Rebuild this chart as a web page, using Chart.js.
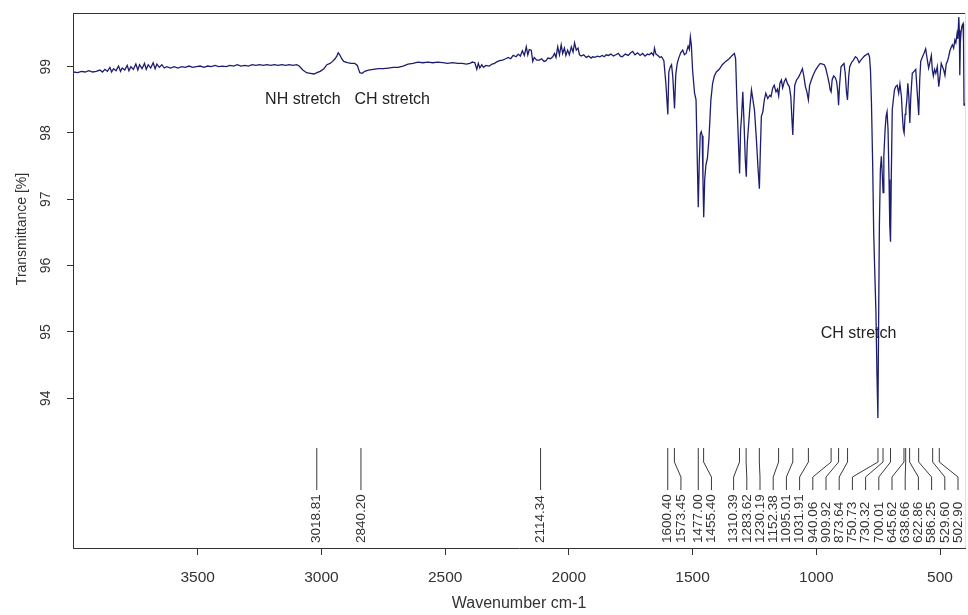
<!DOCTYPE html>
<html>
<head>
<meta charset="utf-8">
<title>IR spectrum</title>
<script src="https://cdn.jsdelivr.net/npm/chart.js@4.4.0/dist/chart.umd.min.js"></script>
<style>
    html, body { margin: 0; padding: 0; background: #ffffff; }
    #wrap { width: 968px; height: 615px; }
</style>
</head>
<body>
<div id="wrap"><canvas id="irChart" width="968" height="615"></canvas></div>
<script>
// ============================================================================
// DATA
// ============================================================================

// spectrum (wavenumber in cm-1, transmittance in %)
const waveNumbers = [
    4002, 3985, 3970, 3955, 3940, 3925, 3910, 3895, 3885, 3875,
    3865, 3855, 3848, 3840, 3830, 3820, 3812, 3805, 3795, 3785,
    3778, 3770, 3760, 3750, 3742, 3735, 3725, 3715, 3708, 3700,
    3690, 3680, 3672, 3665, 3655, 3645, 3635, 3625, 3610, 3595,
    3580, 3565, 3550, 3535, 3520, 3505, 3490, 3475, 3460, 3445,
    3430, 3415, 3400, 3385, 3370, 3355, 3340, 3325, 3310, 3295,
    3280, 3265, 3250, 3235, 3220, 3205, 3190, 3175, 3160, 3145,
    3130, 3115, 3100, 3090, 3075, 3060, 3045, 3030, 3018, 3005,
    2990, 2978, 2965, 2955, 2945, 2938, 2932, 2926, 2918, 2910,
    2895, 2880, 2865, 2855, 2845, 2835, 2825, 2810, 2790, 2770,
    2750, 2730, 2710, 2690, 2670, 2650, 2630, 2610, 2590, 2570,
    2550, 2530, 2510, 2490, 2470, 2450, 2430, 2415, 2400, 2390,
    2380, 2372, 2366, 2360, 2352, 2345, 2335, 2322, 2310, 2300,
    2293, 2280, 2268, 2255, 2245, 2235, 2225, 2213, 2205, 2196,
    2188, 2180, 2172, 2166, 2160, 2152, 2146, 2140, 2130, 2119,
    2110, 2100, 2092, 2085, 2075, 2065, 2058, 2052, 2045, 2038,
    2031, 2025, 2018, 2012, 2005, 1998, 1990, 1983, 1977, 1970,
    1963, 1957, 1950, 1940, 1930, 1920, 1910, 1904, 1895, 1885,
    1875, 1865, 1857, 1849, 1840, 1830, 1820, 1810, 1800, 1792,
    1784, 1772, 1760, 1750, 1742, 1733, 1722, 1712, 1702, 1692,
    1682, 1675, 1666, 1658, 1654, 1648, 1640, 1632, 1625, 1616,
    1608, 1600, 1596, 1590, 1585, 1580, 1573, 1568, 1562, 1556,
    1548, 1540, 1533, 1526, 1518, 1513, 1509, 1505, 1500, 1492,
    1486, 1481, 1477, 1473, 1469, 1465, 1461, 1458, 1455, 1451,
    1446, 1440, 1434, 1426, 1419, 1412, 1404, 1392, 1380, 1366,
    1352, 1340, 1331, 1326, 1321, 1315, 1310, 1306, 1302, 1297,
    1292, 1287, 1283, 1279, 1275, 1268, 1262, 1256, 1250, 1242,
    1236, 1230, 1226, 1222, 1216, 1210, 1204, 1196, 1188, 1183,
    1176, 1170, 1163, 1157, 1152, 1147, 1141, 1136, 1129, 1123,
    1116, 1109, 1103, 1099, 1095, 1091, 1087, 1080, 1072, 1064,
    1056, 1050, 1044, 1038, 1032, 1027, 1020, 1012, 1003, 994,
    984, 975, 968, 962, 955, 948, 944, 940, 936, 930,
    924, 918, 913, 910, 906, 900, 893, 888, 883, 878,
    874, 869, 865, 858, 850, 842, 835, 827, 820, 813,
    806, 798, 790, 785, 781, 777, 772, 768, 764, 759,
    755, 751, 748, 745, 741, 737, 733, 730, 727, 722,
    718, 714, 710, 706, 703, 700, 697, 693, 688, 684,
    679, 673, 667, 662, 656, 651, 648, 645, 641, 638,
    634, 630, 626, 622, 618, 612, 605, 598, 594, 590,
    586, 582, 578, 572, 565, 558, 552, 546, 540, 535,
    531, 527, 522, 517, 511, 505, 500, 495, 490, 485,
    480, 475, 470, 465, 460, 454, 450, 445, 440, 436,
    431, 428, 424, 422, 420, 418, 415, 411, 407, 405,
    403, 400
];

const transmittance = [
    98.92, 98.91, 98.93, 98.92, 98.94, 98.92, 98.93, 98.95, 98.92, 98.96,
    98.93, 98.99, 98.92, 98.97, 98.94, 99.01, 98.93, 98.98, 98.95, 99.02,
    98.94, 99.00, 98.96, 99.04, 98.95, 99.03, 98.97, 99.05, 98.96, 99.03,
    98.98, 99.06, 98.97, 99.04, 98.99, 99.03, 98.98, 99.00, 98.98, 99.00,
    98.98, 99.00, 98.99, 99.01, 98.99, 99.00, 99.01, 98.99, 99.01, 99.00,
    99.02, 99.00, 99.01, 99.00, 99.02, 99.01, 99.03, 99.01, 99.02, 99.01,
    99.03, 99.02, 99.03, 99.02, 99.03, 99.02, 99.03, 99.02, 99.03, 99.02,
    99.03, 99.02, 99.03, 99.01, 98.95, 98.91, 98.90, 98.89, 98.91, 98.93,
    98.97, 99.03, 99.05, 99.08, 99.12, 99.16, 99.21, 99.18, 99.12, 99.08,
    99.06, 99.05, 99.05, 99.02, 98.91, 98.90, 98.93, 98.95, 98.96, 98.97,
    98.97, 98.98, 98.99, 98.99, 99.01, 99.04, 99.05, 99.07, 99.06, 99.07,
    99.06, 99.07, 99.06, 99.05, 99.06, 99.05, 99.05, 99.04, 99.05, 99.07,
    99.06, 98.96, 99.05, 98.98, 99.03, 98.99, 99.02, 99.01, 99.04, 99.05,
    99.07, 99.09, 99.10, 99.12, 99.14, 99.12, 99.17, 99.15, 99.19, 99.16,
    99.24, 99.17, 99.30, 99.18, 99.26, 99.25, 99.08, 99.14, 99.10, 99.10,
    99.12, 99.08, 99.09, 99.13, 99.12, 99.15, 99.20, 99.14, 99.30, 99.18,
    99.33, 99.20, 99.28, 99.17, 99.25, 99.18, 99.30, 99.22, 99.36, 99.25,
    99.28, 99.18, 99.16, 99.18, 99.14, 99.16, 99.13, 99.15, 99.14, 99.16,
    99.15, 99.17, 99.15, 99.18, 99.17, 99.19, 99.16, 99.18, 99.20, 99.16,
    99.15, 99.19, 99.17, 99.21, 99.23, 99.18, 99.21, 99.17, 99.20, 99.16,
    99.19, 99.18, 99.21, 99.17, 99.28, 99.19, 99.17, 99.14, 99.15, 99.09,
    98.75, 98.28, 98.92, 99.00, 99.03, 98.85, 98.37, 98.88, 99.05, 99.13,
    99.21, 99.25, 99.18, 99.20, 99.31, 99.26, 99.45, 99.33, 98.95, 98.60,
    98.50, 97.60, 96.88, 97.55, 97.98, 98.02, 97.96, 97.30, 96.73, 97.30,
    97.52, 97.62, 97.90, 98.50, 98.75, 98.86, 98.92, 98.96, 99.03, 99.08,
    99.12, 99.17, 99.20, 99.12, 98.50, 97.90, 97.39, 98.05, 98.25, 98.62,
    98.15, 97.60, 97.34, 97.85, 98.05, 98.40, 98.65, 98.50, 98.35, 97.90,
    97.50, 97.16, 97.75, 98.25, 98.32, 98.50, 98.60, 98.52, 98.57, 98.55,
    98.68, 98.72, 98.62, 98.66, 98.56, 98.75, 98.80, 98.68, 98.78, 98.82,
    98.74, 98.70, 98.55, 98.25, 97.97, 98.40, 98.72, 98.80, 98.84, 98.90,
    98.97, 98.85, 98.70, 98.62, 98.50, 98.72, 98.80, 98.88, 98.95, 99.00,
    99.05, 99.04, 99.03, 98.98, 98.87, 98.75, 98.65, 98.62, 98.80, 98.86,
    98.84, 98.78, 98.62, 98.42, 98.72, 99.00, 99.03, 99.05, 98.90, 98.62,
    98.50, 98.85, 99.00, 99.06, 99.10, 99.15, 99.13, 99.06, 99.10, 99.13,
    99.16, 99.18, 99.20, 99.15, 98.95, 98.45, 97.50, 96.50, 95.95, 95.30,
    94.40, 93.70, 95.20, 96.60, 97.45, 97.65, 97.35, 97.10, 97.65, 98.05,
    98.25, 98.32, 98.05, 97.30, 96.60, 96.36, 97.30, 98.35, 98.52, 98.65,
    98.70, 98.72, 98.60, 98.74, 98.55, 98.20, 98.05, 98.00, 98.28, 98.35,
    98.50, 98.75, 98.55, 98.15, 98.55, 98.90, 98.93, 98.96, 98.72, 98.50,
    98.27, 98.80, 99.08, 99.14, 99.20, 99.27, 99.12, 98.98, 99.08, 99.17,
    98.95, 98.86, 98.96, 98.90, 99.00, 98.70, 98.86, 99.05, 99.00, 98.95,
    98.87, 99.04, 99.08, 99.15, 99.24, 99.30, 99.33, 99.28, 99.40, 99.36,
    99.50, 99.42, 99.75, 99.55, 98.87, 99.35, 99.52, 99.62, 99.65, 99.40,
    98.42, 98.45
];

// picked peaks, printed under the spectrum
const peakPositions = [
    3018.81, 2840.20, 2114.34, 1600.40, 1573.45, 1477.00, 1455.40,
    1310.39, 1283.62, 1230.19, 1152.38, 1095.01, 1031.91, 940.06,
    909.92, 873.64, 750.73, 730.32, 700.01, 645.62, 638.66, 622.86,
    586.25, 529.60, 502.90
];

// band assignments written into the plot
const bandNames = ['NH stretch', 'CH stretch', 'CH stretch'];
const bandWavenumbers = [3075, 2714, 829];
const bandTransmittance = [98.50, 98.50, 94.97];

// axis ticks
const xTickValues = [3500, 3000, 2500, 2000, 1500, 1000, 500];
const yTickValues = [94, 95, 96, 97, 98, 99];

// ============================================================================
// STYLE
// ============================================================================

const FONT_FAMILY = "'Liberation Sans', Arial, Helvetica, sans-serif";
const TEXT_COLOR = '#333333';
const AXIS_COLOR = '#333333';
const LINE_COLOR = '#1d1d6f';

if (waveNumbers.length !== transmittance.length) {
    console.error('spectrum arrays differ in length', waveNumbers.length, transmittance.length);
}

/**
 * Spreads label positions so that they keep a minimum gap
 * @param {Array} xs - pixel positions, ascending
 * @param {number} gap - minimum distance between labels
 * @param {number} maxX - right limit
 * @returns {Array} label positions
 */
function spreadLabels(xs, gap, maxX) {
    const out = [];
    xs.forEach((x, i) => {
        out.push(i > 0 ? Math.max(x, out[i - 1] + gap) : x);
    });
    for (let i = out.length - 1; i >= 0; i--) {
        const limit = i === out.length - 1 ? maxX : out[i + 1] - gap;
        if (out[i] > limit) out[i] = limit;
    }
    return out;
}

// box line on top and faint right edge
const framePlugin = {
    id: 'frame',
    afterDraw(chart) {
        const { ctx, chartArea: a } = chart;
        ctx.save();
        ctx.lineWidth = 1;
        ctx.strokeStyle = AXIS_COLOR;
        ctx.beginPath();
        ctx.moveTo(a.left, a.top + 0.5);
        ctx.lineTo(a.right, a.top + 0.5);
        ctx.stroke();
        ctx.strokeStyle = '#e2e2e2';
        ctx.beginPath();
        ctx.moveTo(a.right + 0.5, a.top);
        ctx.lineTo(a.right + 0.5, a.bottom);
        ctx.stroke();
        ctx.restore();
    }
};

// peak markers with their numbers
const peakPlugin = {
    id: 'peaks',
    afterDatasetsDraw(chart) {
        const { ctx, chartArea: a, scales } = chart;
        const sorted = peakPositions.slice().sort((p, q) => q - p);
        const px = sorted.map(p => scales.x.getPixelForValue(p));
        const lx = spreadLabels(px, 13.2, a.right - 7);
        const top = a.bottom - 100;

        ctx.save();
        ctx.strokeStyle = '#3a3a3a';
        ctx.lineWidth = 1;
        sorted.forEach((p, i) => {
            ctx.beginPath();
            ctx.moveTo(px[i], top);
            ctx.lineTo(px[i], top + 14);
            ctx.lineTo(lx[i], top + 29);
            ctx.lineTo(lx[i], top + 42);
            ctx.stroke();
        });

        ctx.fillStyle = TEXT_COLOR;
        ctx.font = `13.5px ${FONT_FAMILY}`;
        ctx.textAlign = 'left';
        ctx.textBaseline = 'middle';
        sorted.forEach((p, i) => {
            ctx.save();
            ctx.translate(lx[i], a.bottom - 5);
            ctx.rotate(-Math.PI / 2);
            ctx.fillText(p.toFixed(2), 0, 0);
            ctx.restore();
        });
        ctx.restore();
    }
};

// band names, y tick labels and axis titles
const textPlugin = {
    id: 'texts',
    afterDraw(chart) {
        const { ctx, chartArea: a, scales } = chart;
        ctx.save();
        ctx.textAlign = 'center';
        ctx.textBaseline = 'middle';

        ctx.fillStyle = '#222222';
        ctx.font = `16px ${FONT_FAMILY}`;
        bandNames.forEach((name, i) => {
            ctx.fillText(name,
                scales.x.getPixelForValue(bandWavenumbers[i]),
                scales.y.getPixelForValue(bandTransmittance[i]));
        });

        ctx.fillStyle = TEXT_COLOR;
        ctx.font = `14px ${FONT_FAMILY}`;
        yTickValues.forEach(v => {
            ctx.save();
            ctx.translate(46, scales.y.getPixelForValue(v));
            ctx.rotate(-Math.PI / 2);
            ctx.fillText(String(v), 0, 0);
            ctx.restore();
        });

        ctx.font = `16px ${FONT_FAMILY}`;
        ctx.fillText('Wavenumber cm-1', (a.left + a.right) / 2, 604);

        ctx.font = `14px ${FONT_FAMILY}`;
        ctx.translate(22.5, 229);
        ctx.rotate(-Math.PI / 2);
        ctx.fillText('Transmittance [%]', 0, 0);
        ctx.restore();
    }
};

const points = waveNumbers.map((w, i) => ({ x: w, y: transmittance[i] }));

const chart = new Chart(document.getElementById('irChart'), {
    type: 'line',
    data: {
        datasets: [{
            data: points,
            borderColor: LINE_COLOR,
            borderWidth: 1.3,
            pointRadius: 0,
            tension: 0,
            fill: false
        }]
    },
    options: {
        responsive: false,
        animation: false,
        devicePixelRatio: 1,
        layout: {
            padding: { top: 13, right: 3, left: 0, bottom: 0 }
        },
        plugins: {
            legend: { display: false },
            tooltip: { enabled: false }
        },
        scales: {
            x: {
                type: 'linear',
                reverse: true,
                min: 399,
                max: 4004,
                afterBuildTicks: scale => {
                    scale.ticks = xTickValues.map(v => ({ value: v }));
                },
                afterFit: scale => {
                    scale.height = 67;
                },
                grid: {
                    drawOnChartArea: false,
                    drawTicks: true,
                    tickLength: 7,
                    color: AXIS_COLOR
                },
                border: { color: AXIS_COLOR, width: 1 },
                ticks: {
                    color: TEXT_COLOR,
                    font: { family: FONT_FAMILY, size: 15.5 },
                    padding: 13,
                    maxRotation: 0,
                    autoSkip: false,
                    callback: value => String(value)
                }
            },
            y: {
                type: 'linear',
                min: 91.74,
                max: 99.81,
                afterBuildTicks: scale => {
                    scale.ticks = yTickValues.map(v => ({ value: v }));
                },
                afterFit: scale => {
                    scale.width = 73;
                },
                grid: {
                    drawOnChartArea: false,
                    drawTicks: true,
                    tickLength: 6,
                    color: AXIS_COLOR
                },
                border: { color: AXIS_COLOR, width: 1 },
                ticks: { display: false }
            }
        }
    },
    plugins: [framePlugin, peakPlugin, textPlugin]
});
</script>
</body>
</html>
